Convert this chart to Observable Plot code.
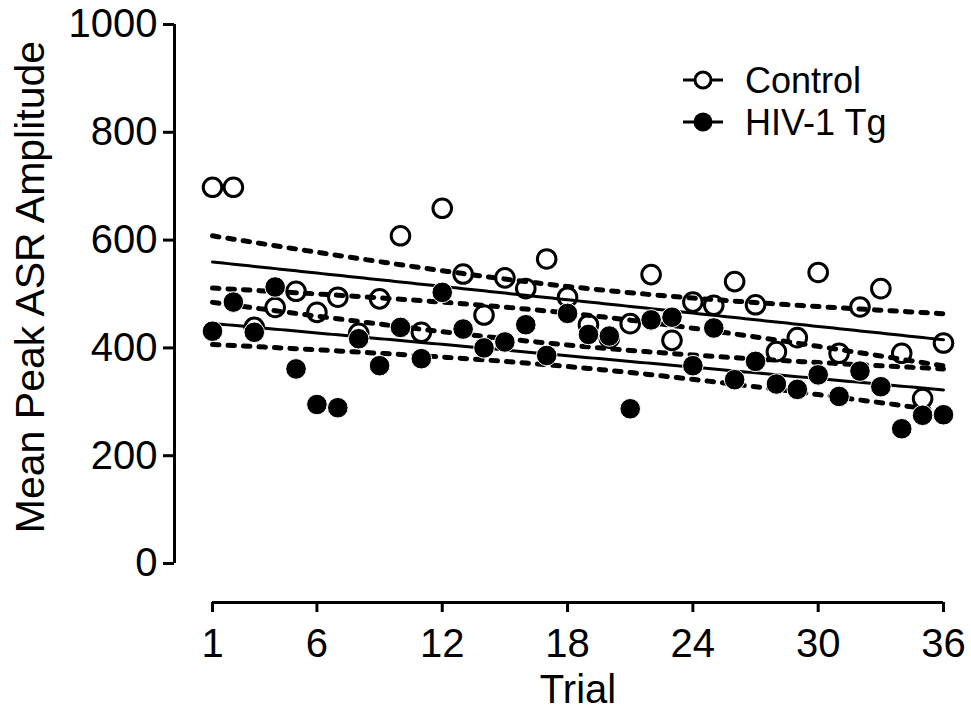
<!DOCTYPE html>
<html>
<head>
<meta charset="utf-8">
<script src="https://cdn.jsdelivr.net/npm/d3@7"></script>
<script src="https://cdn.jsdelivr.net/npm/@observablehq/plot@0.6"></script>
<style>
  body { margin: 0; background: #fff; }
  #chart svg { display: block; }
</style>
</head>
<body>
<div id="chart"></div>
<script>
// Trial-by-trial mean peak acoustic startle amplitude
const trials = [1, 2, 3, 4, 5, 6, 7, 8, 9, 10, 11, 12, 13, 14, 15, 16, 17, 18,
                19, 20, 21, 22, 23, 24, 25, 26, 27, 28, 29, 30, 31, 32, 33, 34, 35, 36];
const control = [698, 698, 438, 475, 505, 466, 494, 427, 491, 608, 429, 659,
                 537, 461, 530, 510, 565, 494, 443, 418, 445, 536, 414, 485,
                 479, 523, 480, 393, 419, 540, 390, 476, 510, 390, 306, 409];
const hiv = [431, 485, 429, 513, 361, 295, 289, 417, 367, 438, 380, 503,
             435, 400, 411, 443, 386, 464, 425, 422, 287, 452, 457, 367,
             437, 341, 375, 333, 323, 350, 310, 357, 328, 250, 275, 276];
const seriesNames = ["Control", "HIV-1 Tg"];
const xTicks = [1, 6, 12, 18, 24, 30, 36];
const yTicks = [0, 200, 400, 600, 800, 1000];
const xDomain = [1, 36];
const yDomain = [0, 1000];

// Least-squares line with its 95% confidence band
function fitWithCI(xs, ys) {
  const n = xs.length;
  const mx = d3.mean(xs), my = d3.mean(ys);
  const sxx = d3.sum(xs, x => (x - mx) ** 2);
  const sxy = d3.sum(xs, (x, i) => (x - mx) * (ys[i] - my));
  const b = sxy / sxx, a = my - b * mx;
  const sse = d3.sum(xs, (x, i) => (ys[i] - a - b * x) ** 2);
  const s = Math.sqrt(sse / (n - 2));
  const t = 2.0322; // two-sided 95% critical value, df = 34
  const grid = d3.range(xDomain[0], xDomain[1] + 1e-9, 0.25);
  return grid.map(x => {
    const yh = a + b * x;
    const h = t * s * Math.sqrt(1 / n + (x - mx) ** 2 / sxx);
    return {x, fit: yh, lo: yh - h, hi: yh + h};
  });
}

const controlPts = trials.map((t, i) => ({trial: t, amp: control[i]}));
const hivPts = trials.map((t, i) => ({trial: t, amp: hiv[i]}));
const controlFit = fitWithCI(trials, control);
const hivFit = fitWithCI(trials, hiv);

const font = "'Liberation Sans', Arial, Helvetica, sans-serif";
const dotted = {strokeWidth: 5, strokeDasharray: "6.5,9", stroke: "black"};

function fitMarks(fit) {
  return [
    Plot.line(fit, {x: "x", y: "hi", ...dotted}),
    Plot.line(fit, {x: "x", y: "lo", ...dotted}),
    Plot.line(fit, {x: "x", y: "fit", stroke: "black", strokeWidth: 3})
  ];
}

const chart = Plot.plot({
  width: 971,
  height: 717,
  marginLeft: 212,
  marginRight: 28,
  marginTop: 24,
  marginBottom: 154,
  x: {domain: xDomain, label: null},
  y: {domain: yDomain, label: null},
  style: {fontFamily: font, fontSize: "40px", background: "white", color: "black"},
  marks: [
    // offset axes
    Plot.ruleX(xDomain.slice(0, 1), {y1: yDomain[0], y2: yDomain[1], dx: -38, strokeWidth: 3}),
    Plot.ruleY(yDomain.slice(0, 1), {x1: xDomain[0], x2: xDomain[1], dy: 39, strokeWidth: 3}),
    Plot.axisY({ticks: yTicks, tickFormat: d => String(d), dx: -38, tickSize: 11,
                tickPadding: 6, strokeWidth: 3, fontSize: 40, label: null}),
    Plot.axisX({ticks: xTicks, tickFormat: d => String(d), dy: 39, tickSize: 10,
                tickPadding: 16, strokeWidth: 3, fontSize: 40, label: null}),
    Plot.text(["Trial"], {frameAnchor: "bottom", dy: 127, fontSize: 40, lineAnchor: "middle"}),
    Plot.text(["Mean Peak ASR Amplitude"], {frameAnchor: "left", dx: -182, dy: -7, rotate: -90,
                fontSize: 41, lineAnchor: "middle", textAnchor: "middle"}),
    ...fitMarks(controlFit),
    ...fitMarks(hivFit),
    Plot.dot(controlPts, {x: "trial", y: "amp", r: 9.3, stroke: "black", strokeWidth: 3, fill: "none"}),
    Plot.dot(hivPts, {x: "trial", y: "amp", r: 10.3, fill: "black", stroke: "white", strokeWidth: 1})
  ]
});

// Legend: line-and-symbol key in the upper right
const svg = d3.select(chart);
const legend = svg.append("g")
  .attr("font-family", font)
  .attr("font-size", 36)
  .attr("text-anchor", "start");
seriesNames.forEach((name, i) => {
  const g = legend.append("g").attr("transform", `translate(703,${80 + i * 42})`);
  g.append("line").attr("x1", -20).attr("x2", 20).attr("stroke", "black").attr("stroke-width", 3);
  g.append("circle")
    .attr("r", i === 0 ? 8 : 9.5)
    .attr("fill", i === 0 ? "white" : "black")
    .attr("stroke", "black")
    .attr("stroke-width", i === 0 ? 3 : 0);
  g.append("text").attr("x", 42).attr("dy", "0.36em").attr("fill", "black").text(name);
});

document.getElementById("chart").append(chart);
</script>
</body>
</html>
